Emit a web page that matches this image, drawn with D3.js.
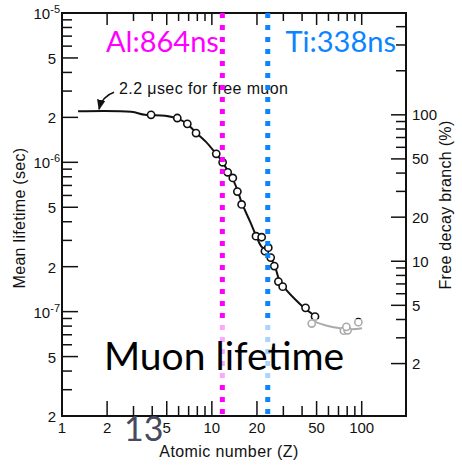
<!DOCTYPE html>
<html lang="en">
<head>
  <meta charset="UTF-8">
  <title>Muon lifetime</title>
  <style>
    body { margin: 0; background: #fff; }
    svg { display: block; }
    .scan text { font-family: "Liberation Sans", Arial, sans-serif; fill: #111; }
    .slide { font-family: Lato, "Open Sans", sans-serif; }
  </style>
</head>
<body>
<div id="chart"></div>
<script src="https://d3js.org/d3.v7.min.js"></script>
<script>
// measured points (atomic number Z, mean lifetime in seconds)
const zPoints   = [3.93, 5.88, 6.86, 7.84, 10.7, 11.8, 12.76, 13.8, 14.8, 15.8, 19.7, 21.5, 22.6, 23.8, 24.7, 26.1, 27.8, 29.7, 42.2, 48.8, 46.4, 76, 80.5, 79, 95];
const tauPoints = [2.08e-6, 1.98e-6, 1.81e-6, 1.57e-6, 1.14e-6, 1.0e-6, 8.57e-7, 7.86e-7, 6.37e-7, 5.22e-7, 3.2e-7, 3.15e-7, 2.54e-7, 2.68e-7, 2.30e-7, 2.02e-7, 1.59e-7, 1.47e-7, 1.06e-7, 9.27e-8, 8.32e-8, 7.45e-8, 7.5e-8, 7.9e-8, 8.5e-8];

// hand-drawn fit curve
const zCurve   = [1.28, 2.89, 3.58, 4.87, 5.85, 6.83, 7.84, 9.14, 10.66, 11.87, 12.82, 13.84, 14.94, 15.89, 17.97, 19.71, 21.3, 22.98, 24.82, 26.38, 28.06, 30.3, 35.9, 41.8, 50.3];
const tauCurve = [2.2e-6, 2.18e-6, 2.08e-6, 2.05e-6, 1.97e-6, 1.81e-6, 1.58e-6, 1.37e-6, 1.14e-6, 9.95e-7, 8.67e-7, 7.66e-7, 6.37e-7, 5.30e-7, 4.02e-7, 3.24e-7, 2.75e-7, 2.58e-7, 2.27e-7, 2.01e-7, 1.65e-7, 1.46e-7, 1.21e-7, 1.05e-7, 9.18e-8];
// continuation for heavy nuclei
const zTail   = [47.3, 56.9, 71.6, 86.1, 100.5];
const tauTail = [8.63e-8, 8.11e-8, 7.74e-8, 7.62e-8, 7.74e-8];

// axes
const xLabels = [1, 2, 5, 10, 20, 50, 100];
const xMinor  = [3, 4, 6, 7, 8, 9, 30, 40, 60, 70, 80, 90];
const yLabels = [1e-5, 5e-6, 2e-6, 1e-6, 5e-7, 2e-7, 1e-7, 5e-8, 2e-8];
const yMinor  = [9e-6, 8e-6, 7e-6, 6e-6, 4e-6, 3e-6, 9e-7, 8e-7, 7e-7, 6e-7, 4e-7, 3e-7, 9e-8, 8e-8, 7e-8, 6e-8, 4e-8, 3e-8];
const rLabels = [100, 50, 20, 10, 5, 2];
const rMinor  = [400, 300, 200, 90, 80, 70, 60, 40, 30, 9, 8, 7, 6, 4, 3];

// slide overlays
const markers = [
  { z: 11.75, label: 'Al:864ns', color: '#ff00ff' },
  { z: 23.6,  label: 'Ti:338ns', color: '#0a84ff' }
];
const freeMuon = 2.2e-6;

const width = 462, height = 466;

const svg = d3.select('#chart').append('svg')
  .attr('width', width)
  .attr('height', height);

const x = d3.scaleLog().domain([1, 197.5]).range([62, 406]);
const y = d3.scaleLog().domain([2e-8, 1e-5]).range([416, 13]);
const yR = d3.scaleLog().domain([0.877, 496]).range([416, 13]);

const g = svg.append('g').attr('class', 'scan');

// frame
g.append('rect')
  .attr('x', x.range()[0]).attr('y', y.range()[1])
  .attr('width', x.range()[1] - x.range()[0])
  .attr('height', y.range()[0] - y.range()[1])
  .attr('fill', 'none').attr('stroke', '#111').attr('stroke-width', 2);

const tickLine = (sel, x1, y1, x2, y2) => sel.append('line')
  .attr('x1', x1).attr('y1', y1).attr('x2', x2).attr('y2', y2)
  .attr('stroke', '#111').attr('stroke-width', 1.5);

const x0 = x.range()[0], x1 = x.range()[1];
const yb = y.range()[0], yt = y.range()[1];

// bottom + top ticks
xLabels.filter(v => v > 1).forEach(v => {
  tickLine(g, x(v), yb, x(v), yb - 15);
  tickLine(g, x(v), yt, x(v), yt + 12);
});
xMinor.forEach(v => {
  tickLine(g, x(v), yb, x(v), yb - 10);
  tickLine(g, x(v), yt, x(v), yt + 8);
});
g.selectAll('.xlab').data(xLabels).join('text')
  .attr('x', d => x(d)).attr('y', 433)
  .attr('text-anchor', 'middle').attr('font-size', 15)
  .text(d => d);

// left ticks
yLabels.forEach(v => tickLine(g, x0, y(v), x0 + 16, y(v)));
yMinor.forEach(v => tickLine(g, x0, y(v), x0 + 10, y(v)));
yLabels.forEach(v => {
  const p = Math.round(Math.log10(v));
  const isPow = Math.abs(Math.log10(v) - p) < 1e-9;
  const t = g.append('text')
    .attr('x', isPow ? 60 : 56).attr('y', y(v) + 6)
    .attr('text-anchor', 'end').attr('font-size', 15);
  if (isPow) {
    t.append('tspan').text('10');
    t.append('tspan').attr('dy', -6).attr('font-size', 11).text(String(p));
  } else {
    t.text(Math.round(v / Math.pow(10, Math.floor(Math.log10(v)))));
  }
});

// right ticks (free decay branch)
rLabels.forEach(v => tickLine(g, x1, yR(v), x1 - 15, yR(v)));
rMinor.forEach(v => tickLine(g, x1, yR(v), x1 - 10, yR(v)));
g.selectAll('.rlab').data(rLabels).join('text')
  .attr('x', 412).attr('y', d => yR(d) + 5.5)
  .attr('font-size', 15)
  .text(d => d);

// axis titles
g.append('text')
  .attr('x', 229).attr('y', 457)
  .attr('text-anchor', 'middle').attr('font-size', 16)
  .attr('letter-spacing', 0.4)
  .text('Atomic number (Z)');
g.append('text')
  .attr('transform', 'translate(25,218) rotate(-90)')
  .attr('text-anchor', 'middle').attr('font-size', 16)
  .attr('letter-spacing', 0.3)
  .text('Mean lifetime (sec)');
g.append('text')
  .attr('transform', 'translate(451,205) rotate(-90)')
  .attr('text-anchor', 'middle').attr('font-size', 16)
  .attr('letter-spacing', 0.3)
  .text('Free decay branch (%)');

// curve
const line = d3.line().x(d => x(d[0])).y(d => y(d[1])).curve(d3.curveCatmullRom);
g.append('path')
  .datum(d3.zip(zCurve, tauCurve))
  .attr('d', line)
  .attr('fill', 'none').attr('stroke', '#111').attr('stroke-width', 2);
g.append('path')
  .datum(d3.zip(zTail, tauTail))
  .attr('d', line)
  .attr('fill', 'none').attr('stroke', '#111').attr('stroke-width', 2);

g.selectAll('circle').data(d3.zip(zPoints, tauPoints)).join('circle')
  .attr('cx', d => x(d[0])).attr('cy', d => y(d[1])).attr('r', 3.6)
  .attr('fill', '#fff').attr('stroke', '#111').attr('stroke-width', 1.6);

// annotation for free muon
svg.append('defs').append('marker')
  .attr('id', 'head').attr('viewBox', '0 0 10 10')
  .attr('refX', 9).attr('refY', 5)
  .attr('markerWidth', 7).attr('markerHeight', 7)
  .attr('orient', 'auto')
  .append('path').attr('d', 'M0,1 L10,5 L0,9 z').attr('fill', '#111');
const ax = x(1.74), ay = y(freeMuon);
g.append('path')
  .attr('d', `M${ax + 16},${ay - 19} Q${ax + 4},${ay - 15} ${ax + 1},${ay - 2}`)
  .attr('fill', 'none').attr('stroke', '#111').attr('stroke-width', 1.5)
  .attr('marker-end', 'url(#head)');
g.append('text')
  .attr('x', ax + 21).attr('y', ay - 17)
  .attr('font-size', 16).attr('letter-spacing', 0.4)
  .text('2.2 \u03bcsec for free muon');

// slide overlays
markers.forEach(m => {
  svg.append('line')
    .attr('x1', x(m.z)).attr('x2', x(m.z))
    .attr('y1', yt).attr('y2', yb)
    .attr('stroke', m.color).attr('stroke-width', 5)
    .attr('stroke-dasharray', '5 7');
});

svg.append('rect')
  .attr('x', 92).attr('y', 319).attr('width', 280).attr('height', 66)
  .attr('fill', '#fff').attr('fill-opacity', 0.65);

svg.append('text').attr('class', 'slide')
  .attr('x', 104).attr('y', 370)
  .attr('font-size', 39).attr('fill', '#000')
  .text('Muon lifetime');

svg.append('text').attr('class', 'slide')
  .attr('x', 106).attr('y', 52)
  .attr('font-size', 29).attr('fill', markers[0].color)
  .text(markers[0].label);
svg.append('text').attr('class', 'slide')
  .attr('x', 396).attr('y', 52).attr('text-anchor', 'end')
  .attr('font-size', 29).attr('fill', markers[1].color)
  .text(markers[1].label);

svg.append('text').attr('class', 'slide')
  .attr('x', 124).attr('y', 441)
  .attr('font-size', 34).attr('fill', '#474a5c')
  .text('13');
</script>
</body>
</html>
